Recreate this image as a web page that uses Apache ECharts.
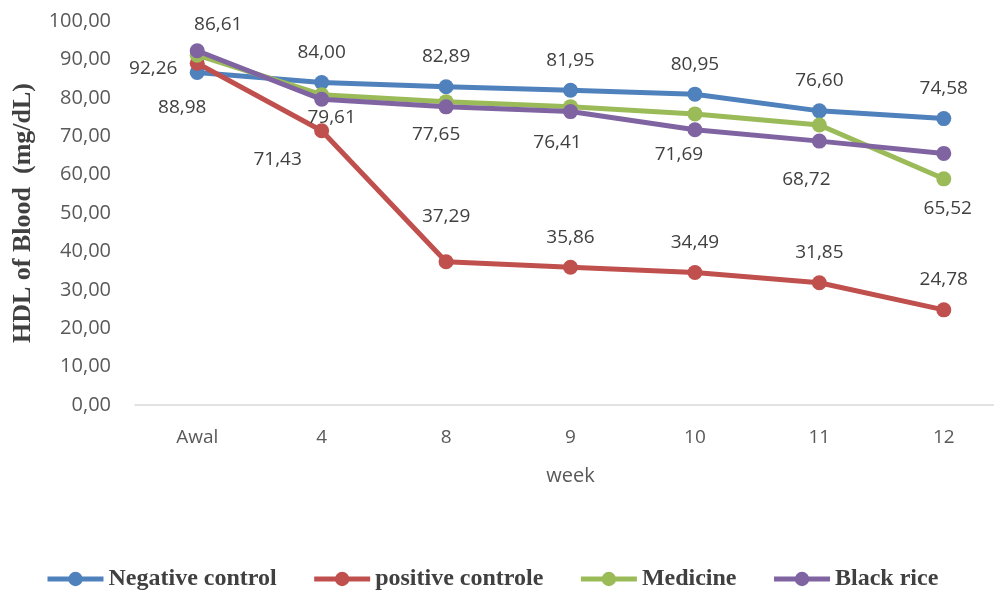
<!DOCTYPE html>
<html>
<head>
<meta charset="utf-8">
<script src="https://cdn.jsdelivr.net/npm/echarts@6/dist/echarts.min.js"></script>
<style>
  html, body { margin: 0; padding: 0; background: #ffffff; }
  #chart { width: 994px; height: 592px; }
</style>
</head>
<body>
<div id="chart"></div>
<script>
// Weeks of the study
const weeks = ['Awal', '4', '8', '9', '10', '11', '12'];

// HDL of blood (mg/dL) per group
const negativeControl = [86.61, 84.00, 82.89, 81.95, 80.95, 76.60, 74.58];
const positiveControle = [88.98, 71.43, 37.29, 35.86, 34.49, 31.85, 24.78];
const medicine = [91.1, 80.8, 79.0, 77.7, 75.8, 72.9, 58.9];
const blackRice = [92.26, 79.61, 77.65, 76.41, 71.69, 68.72, 65.52];

// Y axis ticks
const yMin = 0, yMax = 100, yStep = 10;

const seriesNames = ['Negative control', 'positive controle', 'Medicine', 'Black rice'];
const colors = ['#4F81BD', '#C0504D', '#9BBB59', '#8064A2'];

const fmt = v => Number(v).toFixed(2).replace('.', ',');

// Label placement around each marker (dx, dy from marker centre); null = no label
const labelShift = [
  [[21, -48], [0, -30], [0, -30], [0, -30], [0, -30], [0, -30], [0, -30]],
  [[-15, 44], [-44, 29], [0, -45], [0, -30], [0, -30], [0, -30], [0, -30]],
  null,
  [[-44, 18], [10, 18], [-10, 28], [-13, 31], [-16, 25], [-13, 38], [4, 55]]
];

const textFont = 'Open Sans';
const valueGroups = [negativeControl, positiveControle, medicine, blackRice];

const series = valueGroups.map((vals, i) => ({
  name: seriesNames[i],
  type: 'line',
  data: vals.map((v, j) => {
    const item = { value: v };
    if (labelShift[i]) {
      item.label = { show: true, position: 'inside', offset: labelShift[i][j] };
    } else {
      item.label = { show: false };
    }
    return item;
  }),
  symbol: 'circle',
  symbolSize: 15,
  showAllSymbol: true,
  lineStyle: { width: 5, color: colors[i] },
  itemStyle: { color: colors[i], borderColor: colors[i], borderWidth: 0 },
  label: {
    formatter: p => fmt(p.value),
    color: '#404040',
    fontFamily: textFont,
    fontSize: 19
  },
  emphasis: { disabled: true },
  z: 2 + i
}));

const chart = echarts.init(document.getElementById('chart'), null, { renderer: 'canvas' });
chart.setOption({
  animation: false,
  backgroundColor: '#ffffff',
  color: colors,
  grid: {
    left: 135,
    top: 21,
    width: 871,
    height: 384,
    containLabel: false,
    outerBoundsMode: 'none'
  },
  legend: {
    left: 45,
    top: 567,
    padding: 0,
    itemWidth: 56,
    itemHeight: 18,
    itemGap: 35,
    data: seriesNames,
    lineStyle: { width: 5 },
    textStyle: {
      fontFamily: 'Liberation Serif',
      fontWeight: 'bold',
      fontSize: 24,
      color: '#404040'
    }
  },
  xAxis: {
    type: 'category',
    data: weeks,
    boundaryGap: true,
    name: 'week',
    nameLocation: 'middle',
    nameGap: 61,
    nameTextStyle: { fontFamily: textFont, fontSize: 20, color: '#595959' },
    axisLine: { show: true, lineStyle: { color: '#d9d9d9', width: 1.5 } },
    axisTick: { show: false },
    axisLabel: { margin: 23, fontFamily: textFont, fontSize: 19, color: '#595959' },
    splitLine: { show: false }
  },
  yAxis: {
    type: 'value',
    min: yMin,
    max: yMax,
    interval: yStep,
    name: 'HDL of Blood  (mg/dL)',
    nameLocation: 'middle',
    nameGap: 99,
    nameRotate: 90,
    nameTextStyle: {
      fontFamily: 'Liberation Serif',
      fontWeight: 'bold',
      fontSize: 26,
      color: '#404040'
    },
    axisLine: { show: false },
    axisTick: { show: false },
    axisLabel: {
      margin: 24,
      fontFamily: textFont,
      fontSize: 20,
      color: '#595959',
      formatter: v => fmt(v)
    },
    splitLine: { show: false }
  },
  series: series
});
</script>
</body>
</html>
